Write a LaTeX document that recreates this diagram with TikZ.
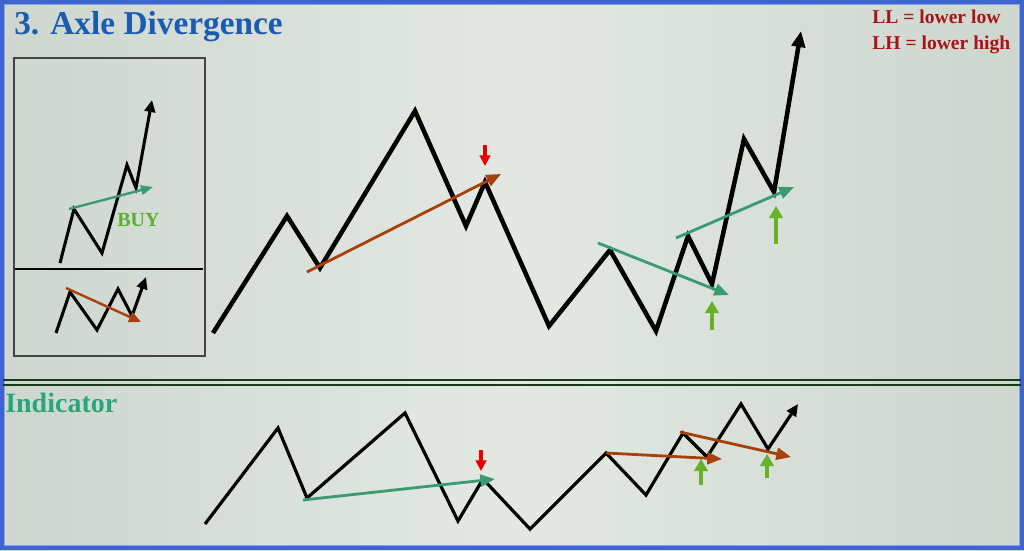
\documentclass[tikz,border=0pt]{standalone}
\usepackage{fontspec}
\setmainfont{Liberation Serif}
\usetikzlibrary{arrows.meta}
\definecolor{bgA}{HTML}{CDD7CE}
\definecolor{bgB}{HTML}{E3E8E3}
\definecolor{frameblue}{HTML}{3F63D0}
\definecolor{framelight}{HTML}{86A6D2}
\definecolor{titleblue}{HTML}{1A5CB0}
\definecolor{legred}{HTML}{A81414}
\definecolor{brownarr}{HTML}{A8400C}
\definecolor{tealarr}{HTML}{3A9A70}
\definecolor{upgreen}{HTML}{66B02A}
\definecolor{downred}{HTML}{E80000}
\definecolor{indteal}{HTML}{2AA67E}
\definecolor{buygreen}{HTML}{5AB030}
\definecolor{sepgreen}{HTML}{1A3A1A}
\definecolor{boxgray}{HTML}{444444}
\tikzset{
  price/.style={line width=3.4pt,black,line join=miter},
  priceS/.style={line width=2.3pt,black,line join=miter},
  ind/.style={line width=2.4pt,black,line join=miter},
  bigtip/.style={-{Triangle[length=12pt,width=10pt]}},
  midtip/.style={-{Triangle[length=9pt,width=8pt]}},
  brownline/.style={line width=2.1pt,brownarr,-{Triangle[length=11pt,width=9pt]}},
  tealline/.style={line width=2.1pt,tealarr,-{Triangle[length=11pt,width=9pt]}},
  upmark/.style={line width=3pt,upgreen,-{Triangle[length=9pt,width=10pt]}},
  downmark/.style={line width=2.3pt,downred,-{Triangle[length=8pt,width=8pt]}},
  txt/.style={inner sep=0pt,anchor=base west}
}
\begin{document}
\begin{tikzpicture}[x=0.75pt,y=-0.75pt]
\useasboundingbox (0,0) rectangle (1024,550);
% background
\shade[left color=bgA,right color=bgA,middle color=bgB] (0,0) rectangle (1024,550);
% frame
\draw[frameblue,line width=2.6pt] (1.8,1.8) rectangle (1022.2,548.2);
\draw[framelight,line width=1.2pt] (4.6,4.6) rectangle (1019.4,545.4);

% title and legend
\node[txt,text=titleblue,font=\fontsize{25}{30}\selectfont\bfseries] (title) at (14,34) {3. Axle Divergence};
\node[txt,text=legred,font=\fontsize{14.7}{17}\selectfont\bfseries] (ll) at (872,23) {LL = lower low};
\node[txt,text=legred,font=\fontsize{14.7}{17}\selectfont\bfseries] (lh) at (872,49) {LH = lower high};

% inset box
\draw[boxgray,line width=1.3pt] (14,58) rectangle (205,356);
\draw[black,line width=0.8pt] (15,269) -- (203,269);
\draw[priceS,midtip] (60,263) -- (74,209) -- (102,253) -- (127,165) -- (136,188) -- (152,100);
\draw[line width=1.8pt,tealarr,-{Triangle[length=9pt,width=7pt]}] (69,209) -- (153,187);
\node[txt,text=buygreen,font=\fontsize{15}{18}\selectfont\bfseries] (buy) at (117,226) {BUY};
\draw[priceS,midtip] (56,333) -- (70,292) -- (97,330) -- (118,289) -- (132,316) -- (146,277);
\draw[line width=1.8pt,brownarr,-{Triangle[length=9pt,width=8pt]}] (66,288) -- (141,322);

% main price chart
\coordinate (p0) at (213,333);
\coordinate (p1) at (287,216);
\coordinate (p2) at (320,268);
\coordinate (p3) at (415,111);
\coordinate (p4) at (466,226);
\coordinate (p5) at (485,182);
\coordinate (p6) at (549,326);
\coordinate (p7) at (610,250);
\coordinate (p8) at (656,331);
\coordinate (p9) at (688,236);
\coordinate (p10) at (712,284);
\coordinate (p11) at (744,139);
\coordinate (p12) at (774,192);
\coordinate (p13) at (801,31);
\draw[price,bigtip] (p0) -- (p1) -- (p2) -- (p3) -- (p4) -- (p5) -- (p6) -- (p7) -- (p8) -- (p9) -- (p10) -- (p11) -- (p12) -- (p13);
\coordinate (b1s) at (307,272); \coordinate (b1e) at (501,174);
\draw[brownline] (b1s) -- (b1e);
\coordinate (r1s) at (485,145); \coordinate (r1e) at (485,166);
\draw[downmark] (r1s) -- (r1e);
\coordinate (t1s) at (598,243); \coordinate (t1e) at (729,295);
\draw[tealline] (t1s) -- (t1e);
\coordinate (t2s) at (676,238); \coordinate (t2e) at (794,187);
\draw[tealline] (t2s) -- (t2e);
\coordinate (u1s) at (712,330); \coordinate (u1e) at (712,301);
\draw[upmark] (u1s) -- (u1e);
\coordinate (u2s) at (776,244); \coordinate (u2e) at (776,206);
\draw[upmark] (u2s) -- (u2e);

% separator
\draw[sepgreen,line width=0.9pt] (3,380) -- (1021,380);
\draw[sepgreen,line width=0.9pt] (3,385) -- (1021,385);
\node[txt,text=indteal,font=\fontsize{21}{24}\selectfont\bfseries] (indic) at (5,412) {Indicator};

% indicator chart
\coordinate (q0) at (205,524);
\coordinate (q1) at (278,428);
\coordinate (q2) at (307,498);
\coordinate (q3) at (405,413);
\coordinate (q4) at (458,521);
\coordinate (q5) at (483,479);
\coordinate (q6) at (530,529);
\coordinate (q7) at (606,453);
\coordinate (q8) at (646,495);
\coordinate (q9) at (683,433);
\coordinate (q10) at (707,457);
\coordinate (q11) at (741,404);
\coordinate (q12) at (768,449);
\coordinate (q13) at (798,404);
\draw[ind,midtip] (q0) -- (q1) -- (q2) -- (q3) -- (q4) -- (q5) -- (q6) -- (q7) -- (q8) -- (q9) -- (q10) -- (q11) -- (q12) -- (q13);
\coordinate (g1s) at (303,500); \coordinate (g1e) at (495,479);
\draw[tealline] (g1s) -- (g1e);
\coordinate (r2s) at (481,450); \coordinate (r2e) at (481,471);
\draw[downmark] (r2s) -- (r2e);
\coordinate (c1s) at (606,453); \coordinate (c1e) at (722,459);
\draw[brownline] (c1s) -- (c1e);
\coordinate (c2s) at (680,432); \coordinate (c2e) at (791,457);
\draw[brownline] (c2s) -- (c2e);
\coordinate (u3s) at (701,485); \coordinate (u3e) at (701,459);
\draw[upmark] (u3s) -- (u3e);
\coordinate (u4s) at (767,478); \coordinate (u4e) at (767,454);
\draw[upmark] (u4s) -- (u4e);
\end{tikzpicture}
\end{document}
